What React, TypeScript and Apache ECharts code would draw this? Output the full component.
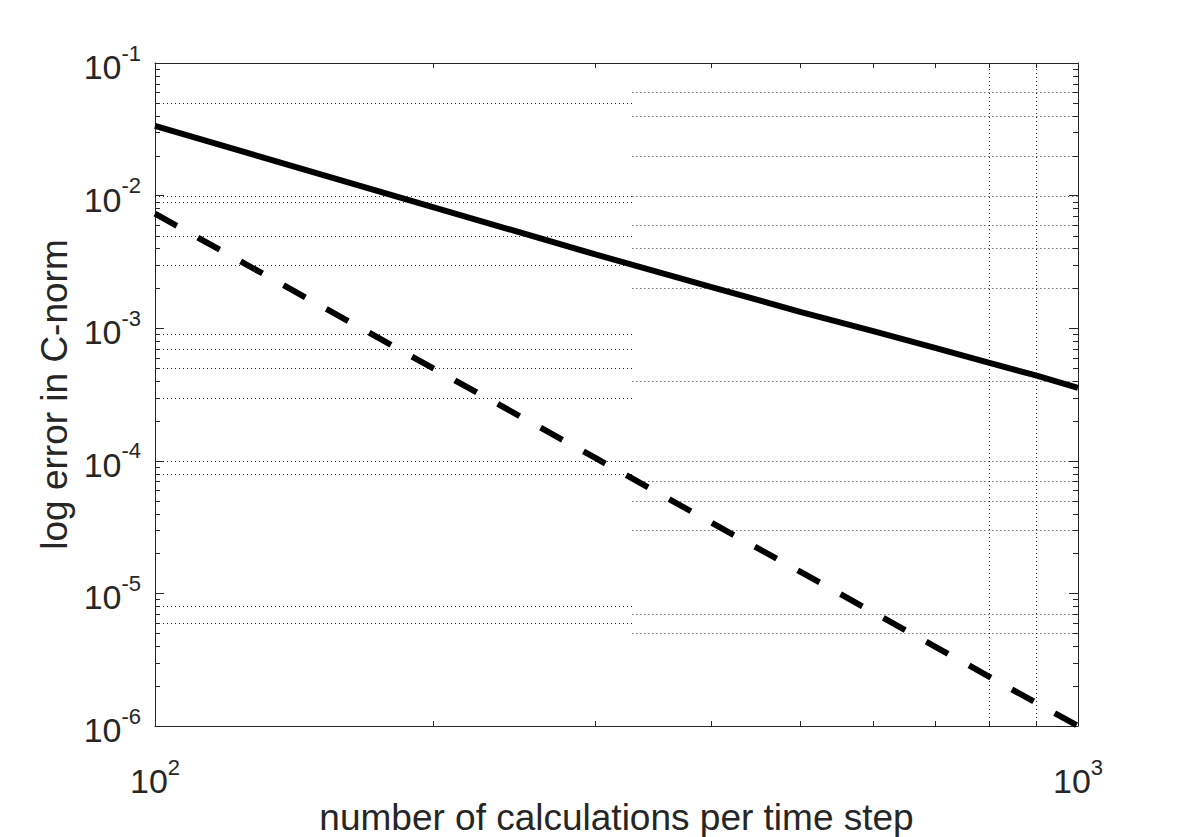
import React, { useEffect, useRef } from "react";
import * as echarts from "echarts";

// ---- data ----
const xCalc = [100, 200, 300, 400, 500, 600, 700, 800, 900, 1000];
const errSolid = [0.0335, 0.0082, 0.0036, 0.00205, 0.00133, 0.00095, 0.00071, 0.00055, 0.00044, 0.000355];
const errDashed = [7.3e-3, 5.0e-4, 1.05e-4, 3.44e-5, 1.46e-5, 7.2e-6, 3.97e-6, 2.37e-6, 1.5e-6, 1.0e-6];

const X_MIN = 100;
const X_MAX = 1000;
const Y_MIN = 1e-6;
const Y_MAX = 1e-1;

const xMinorTicks = [200, 300, 400, 500, 600, 700, 800, 900];
const mantissas = [2, 3, 4, 5, 6, 7, 8, 9];
const decades = [1e-6, 1e-5, 1e-4, 1e-3, 1e-2];

// dotted grid lines (as drawn in the reference: split into a left and a right part)
const gridSplitX = 329;
const leftGridY = [5e-2, 1e-2, 9e-3, 5e-3, 3e-3, 9e-4, 7e-4, 5e-4, 3e-4, 1e-4, 8e-5, 8e-6, 6e-6];
const rightGridY = [6e-2, 4e-2, 2e-2, 1e-2, 6e-3, 4e-3, 2e-3, 4e-4, 1e-4, 7e-5, 5e-5, 3e-5, 7e-6, 5e-6];
const vertGridX = [800, 900];

const xTitle = "number of calculations per time step";
const yTitle = "log error in C-norm";

const FONT = "'Liberation Sans', Arial, Helvetica, sans-serif";
const INK = "#262626";

export default function App() {
  const ref = useRef<HTMLDivElement>(null);

  useEffect(() => {
    if (!ref.current) return;
    const chart = echarts.init(ref.current, undefined, { renderer: "svg" });

    const yMinorTicks: number[] = [];
    decades.forEach((d) => mantissas.forEach((m) => yMinorTicks.push(m * d)));

    const hSegments: number[][] = [];
    leftGridY.forEach((y) => hSegments.push([X_MIN, gridSplitX, y]));
    rightGridY.forEach((y) => hSegments.push([gridSplitX, X_MAX, y]));
    const vSegments = vertGridX.map((x) => [x, Y_MIN, Y_MAX]);

    const snap = (v: number) => Math.round(v) + 0.5;
    const dotted = { stroke: INK, lineWidth: 1, lineDash: [1, 3] };
    const tickStyle = { stroke: INK, lineWidth: 1 };

    const labelFmt = (v: number) => {
      const e = Math.round(Math.log10(v));
      return `{b|10}{s|${e}}`;
    };
    const rich = {
      b: { fontSize: 34, fontFamily: FONT, color: INK, lineHeight: 42, verticalAlign: "bottom" },
      s: { fontSize: 22, fontFamily: FONT, color: INK, lineHeight: 22, verticalAlign: "top" },
    };

    const axisLine = { show: true, lineStyle: { color: INK, width: 1 } };
    const axisTick = { show: true, inside: true, length: 9, lineStyle: { color: INK, width: 1 } };

    chart.setOption({
      animation: false,
      backgroundColor: "#ffffff",
      grid: {
        left: 155,
        right: 112,
        top: 63,
        bottom: 111,
        containLabel: false,
        outerBoundsMode: "none",
      },
      xAxis: [
        {
          type: "log",
          logBase: 10,
          min: X_MIN,
          max: X_MAX,
          position: "bottom",
          axisLine,
          axisTick,
          splitLine: { show: false },
          axisLabel: { formatter: labelFmt, rich, margin: 30 },
          name: xTitle,
          nameLocation: "middle",
          nameGap: 73,
          nameMoveOverlap: false,
          nameTextStyle: { fontSize: 37, fontFamily: FONT, color: INK },
        },
        {
          type: "log",
          logBase: 10,
          min: X_MIN,
          max: X_MAX,
          position: "top",
          axisLine,
          axisTick,
          splitLine: { show: false },
          axisLabel: { show: false },
        },
      ],
      yAxis: [
        {
          type: "log",
          logBase: 10,
          min: Y_MIN,
          max: Y_MAX,
          position: "left",
          axisLine,
          axisTick,
          splitLine: { show: false },
          axisLabel: { formatter: labelFmt, rich, margin: 14 },
          name: yTitle,
          nameLocation: "middle",
          nameGap: 82,
          nameMoveOverlap: false,
          nameTextStyle: { fontSize: 37, fontFamily: FONT, color: INK },
        },
        {
          type: "log",
          logBase: 10,
          min: Y_MIN,
          max: Y_MAX,
          position: "right",
          axisLine,
          axisTick,
          splitLine: { show: false },
          axisLabel: { show: false },
        },
      ],
      series: [
        {
          type: "custom",
          name: "hgrid",
          silent: true,
          z: 1,
          xAxisIndex: 0,
          yAxisIndex: 0,
          encode: { x: [0, 1], y: 2 },
          data: hSegments,
          renderItem: (_p: any, api: any) => {
            const a = api.coord([api.value(0), api.value(2)]);
            const b = api.coord([api.value(1), api.value(2)]);
            return {
              type: "line",
              shape: { x1: a[0], y1: snap(a[1]), x2: b[0], y2: snap(a[1]) },
              style: dotted,
            };
          },
        },
        {
          type: "custom",
          name: "vgrid",
          silent: true,
          z: 1,
          xAxisIndex: 0,
          yAxisIndex: 0,
          encode: { x: 0, y: [1, 2] },
          data: vSegments,
          renderItem: (_p: any, api: any) => {
            const a = api.coord([api.value(0), api.value(1)]);
            const b = api.coord([api.value(0), api.value(2)]);
            return {
              type: "line",
              shape: { x1: snap(a[0]), y1: a[1], x2: snap(a[0]), y2: b[1] },
              style: dotted,
            };
          },
        },
        {
          type: "custom",
          name: "xminor",
          silent: true,
          z: 3,
          xAxisIndex: 0,
          yAxisIndex: 0,
          encode: { x: 0, y: 1 },
          data: xMinorTicks.map((v) => [v, Y_MIN]),
          renderItem: (_p: any, api: any) => {
            const b = api.coord([api.value(0), Y_MIN]);
            const t = api.coord([api.value(0), Y_MAX]);
            const x = snap(b[0]);
            return {
              type: "group",
              children: [
                { type: "line", shape: { x1: x, y1: b[1], x2: x, y2: b[1] - 5 }, style: tickStyle },
                { type: "line", shape: { x1: x, y1: t[1], x2: x, y2: t[1] + 5 }, style: tickStyle },
              ],
            };
          },
        },
        {
          type: "custom",
          name: "yminor",
          silent: true,
          z: 3,
          xAxisIndex: 0,
          yAxisIndex: 0,
          encode: { x: 0, y: 1 },
          data: yMinorTicks.map((v) => [X_MIN, v]),
          renderItem: (_p: any, api: any) => {
            const l = api.coord([X_MIN, api.value(1)]);
            const r = api.coord([X_MAX, api.value(1)]);
            const y = snap(l[1]);
            return {
              type: "group",
              children: [
                { type: "line", shape: { x1: l[0], y1: y, x2: l[0] + 5, y2: y }, style: tickStyle },
                { type: "line", shape: { x1: r[0], y1: y, x2: r[0] - 5, y2: y }, style: tickStyle },
              ],
            };
          },
        },
        {
          type: "line",
          name: "solid",
          z: 5,
          showSymbol: false,
          symbol: "none",
          data: xCalc.map((x, i) => [x, errSolid[i]]),
          lineStyle: { color: "#000000", width: 6, type: "solid" },
        },
        {
          type: "line",
          name: "dashed",
          z: 5,
          showSymbol: false,
          symbol: "none",
          data: xCalc.map((x, i) => [x, errDashed[i]]),
          lineStyle: { color: "#000000", width: 6, type: [25, 24] },
        },
      ],
    });

    return () => chart.dispose();
  }, []);

  return (
    <div
      ref={ref}
      style={{ position: "fixed", left: 0, top: 0, width: 1190, height: 837, background: "#fff" }}
    />
  );
}
